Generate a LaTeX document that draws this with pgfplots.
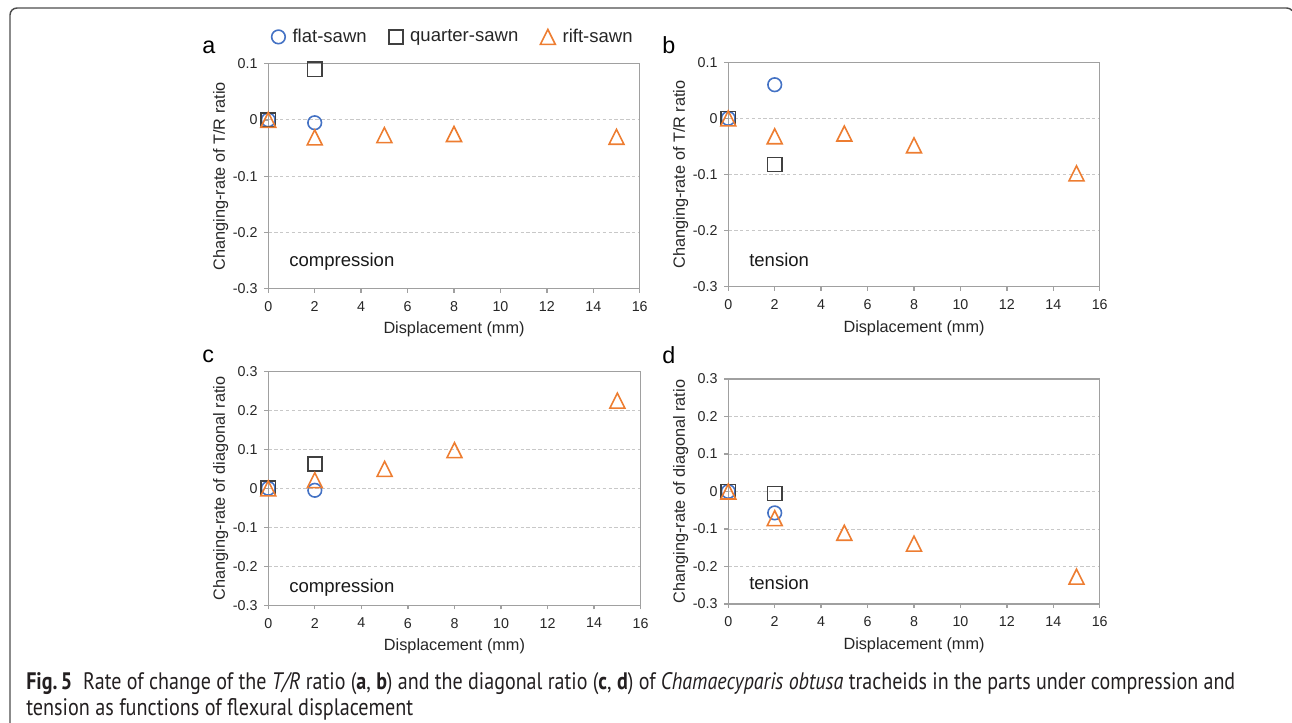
\documentclass[border=0pt]{standalone}
\usepackage{fontspec}
\setmainfont{Liberation Sans}
\newfontfamily\capfont{PT Sans}
\usepackage{graphicx}
\usepackage{pgfplots}
\pgfplotsset{compat=1.18}

\definecolor{cblue}{HTML}{4472C4}
\definecolor{cgray}{HTML}{404040}
\definecolor{corange}{HTML}{ED7D31}
\definecolor{axgray}{HTML}{A0A0A0}
\definecolor{gridgray}{HTML}{C8C8C8}
\definecolor{framegray}{HTML}{4D4D4D}
\definecolor{captext}{HTML}{231F20}

\pgfdeclareplotmark{xltri}{%
  \pgfpathmoveto{\pgfqpoint{0pt}{\pgfplotmarksize}}%
  \pgfpathlineto{\pgfqpoint{-\pgfplotmarksize}{-\pgfplotmarksize}}%
  \pgfpathlineto{\pgfqpoint{\pgfplotmarksize}{-\pgfplotmarksize}}%
  \pgfpathclose\pgfusepathqstroke}

\newsavebox\fitbox
\newcommand\fitw[2]{\sbox\fitbox{#2}\pgfmathsetmacro\fitr{#1/\the\wd\fitbox}\scalebox{\fitr}[1]{\usebox\fitbox}}

\pgfplotsset{
  panel/.style={
    scale only axis, clip=false,
    xmin=0, xmax=16,
    xtick={0,2,4,6,8,10,12,14,16},
    xticklabels={0,2,4,6,8,10,12,14,16},
    axis line style={draw=axgray, line width=1pt},
    major tick style={draw=axgray, line width=1pt},
    major tick length=3pt, tick align=outside,
    xtick pos=bottom, ytick pos=left,
    ymajorgrids,
    grid style={gridgray, line width=0.75pt, dash pattern=on 2.6pt off 1.8pt},
    tick label style={font=\fontsize{10.7}{12}\selectfont, text=black!85},
    label style={font=\fontsize{12.2}{14}\selectfont, text=black!85},
    xlabel={Displacement (mm)},
    yticklabel style={xshift=-1.5pt},
    xticklabel style={yshift=-3pt},
    legend image code/.code={\draw[##1] plot coordinates {(0pt,0pt)};},
  },
  fl/.style={only marks, mark=o, mark size=5.1pt, draw=cblue, line width=1.2pt},
  qu/.style={only marks, mark=square, mark size=5.3pt, draw=cgray, line width=1.2pt},
  ri/.style={only marks, mark=xltri, mark size=5.6pt, draw=corange, line width=1.2pt},
}

\begin{document}
\begin{tikzpicture}
\useasboundingbox (0pt,0pt) rectangle (969pt,-541.5pt);

% frame
\draw[framegray, line width=1.1pt] (7.5pt,-545pt) -- (7.5pt,-11.25pt)
  arc[start angle=180, end angle=90, radius=5.25pt] -- (965pt,-6pt)
  arc[start angle=90, end angle=40, radius=5.25pt];

% panel a
\begin{axis}[panel, at={(201.2pt,-216.5pt)}, anchor=south west,
  width=278.6pt, height=168.75pt,
  ymin=-0.3, ymax=0.1,
  ytick={-0.3,-0.2,-0.1,0,0.1}, yticklabels={-0.3,-0.2,-0.1,0,0.1},
  ylabel={Changing-rate of T/R ratio},
  y label style={at={(axis description cs:-0.1166,0.5)}, anchor=base},
  x label style={at={(axis description cs:0.5,-0.2013)}, anchor=base},
  legend style={at={(axis description cs:0.495,1.119)}, anchor=center,
    draw=none, fill=none, legend columns=3,
    font=\fontsize{13.9}{16}\selectfont, nodes={inner sep=0pt, text=black!85},
    /tikz/every odd column/.append style={column sep=5.5pt},
    /tikz/every even column/.append style={column sep=16.5pt}},
]
\addplot[fl] coordinates {(0,0) (2,-0.005)};
\addplot[qu] coordinates {(0,0) (2,0.09)};
\addplot[ri] coordinates {(0,0) (2,-0.031) (5,-0.027) (8,-0.025) (15,-0.030)};
\legend{flat-sawn, quarter-sawn, rift-sawn}
\end{axis}

% panel b
\begin{axis}[panel, at={(546.2pt,-215.0pt)}, anchor=south west,
  width=278.6pt, height=168.3pt,
  ymin=-0.3, ymax=0.1,
  ytick={-0.3,-0.2,-0.1,0,0.1}, yticklabels={-0.3,-0.2,-0.1,0,0.1},
  ylabel={Changing-rate of T/R ratio},
  y label style={at={(axis description cs:-0.1166,0.5)}, anchor=base},
  x label style={at={(axis description cs:0.5,-0.205)}, anchor=base},
]
\addplot[fl] coordinates {(0,0) (2,0.06)};
\addplot[qu] coordinates {(0,0) (2,-0.082)};
\addplot[ri] coordinates {(0,0) (2,-0.032) (5,-0.027) (8,-0.048) (15,-0.098)};
\end{axis}

% panel c
\begin{axis}[panel, at={(201.2pt,-454.0pt)}, anchor=south west,
  width=279.3pt, height=175.5pt,
  ymin=-0.3, ymax=0.3,
  ytick={-0.3,-0.2,-0.1,0,0.1,0.2,0.3}, yticklabels={-0.3,-0.2,-0.1,0,0.1,0.2,0.3},
  ylabel={Changing-rate of diagonal ratio},
  y label style={at={(axis description cs:-0.1166,0.5)}, anchor=base},
  x label style={at={(axis description cs:0.5,-0.191)}, anchor=base},
]
\addplot[fl] coordinates {(0,0) (2,-0.005)};
\addplot[qu] coordinates {(0,0) (2,0.062)};
\addplot[ri] coordinates {(0,0) (2,0.021) (5,0.050) (8,0.098) (15,0.225)};
\end{axis}

% panel d
\begin{axis}[panel, at={(546.2pt,-453.0pt)}, anchor=south west,
  width=278.6pt, height=168.75pt,
  ymin=-0.3, ymax=0.3,
  ytick={-0.3,-0.2,-0.1,0,0.1,0.2,0.3}, yticklabels={-0.3,-0.2,-0.1,0,0.1,0.2,0.3},
  ylabel={Changing-rate of diagonal ratio},
  y label style={at={(axis description cs:-0.1166,0.5)}, anchor=base},
  x label style={at={(axis description cs:0.5,-0.204)}, anchor=base},
]
\addplot[fl] coordinates {(0,0) (2,-0.057)};
\addplot[qu] coordinates {(0,0) (2,-0.005)};
\addplot[ri] coordinates {(0,0) (2,-0.071) (5,-0.110) (8,-0.139) (15,-0.227)};
\end{axis}

% panel letters
\begin{scope}[every node/.style={anchor=base west, inner sep=0pt, font=\fontsize{17.5}{20}\selectfont}]
\node at (151.5pt,-40pt) {a};
\node at (496.5pt,-40pt) {b};
\node at (151.5pt,-272pt) {c};
\node at (496.5pt,-272.5pt) {d};
\end{scope}

% annotations
\begin{scope}[every node/.style={anchor=base west, inner sep=0pt, font=\fontsize{13.9}{16}\selectfont, text=black!90}]
\node at (216.75pt,-200pt) {compression};
\node at (561.75pt,-200pt) {tension};
\node at (216.75pt,-444.2pt) {compression};
\node at (561.75pt,-442pt) {tension};
\end{scope}

% caption
\node[anchor=base west, inner sep=0pt, text=captext, font=\capfont\fontsize{17.9}{20}\selectfont] at (19.5pt,-516.75pt)
  {\fitw{906.75pt}{\textbf{Fig.\,5}\hspace{0.55em}Rate of change of the \textit{T/R} ratio (\textbf{a}, \textbf{b}) and the diagonal ratio (\textbf{c}, \textbf{d}) of \textit{Chamaecyparis obtusa} tracheids in the parts under compression and}};
\node[anchor=base west, inner sep=0pt, text=captext, font=\capfont\fontsize{17.9}{20}\selectfont] at (19.5pt,-536.25pt)
  {\fitw{290.25pt}{tension as functions of flexural displacement}};
\end{tikzpicture}
\end{document}
